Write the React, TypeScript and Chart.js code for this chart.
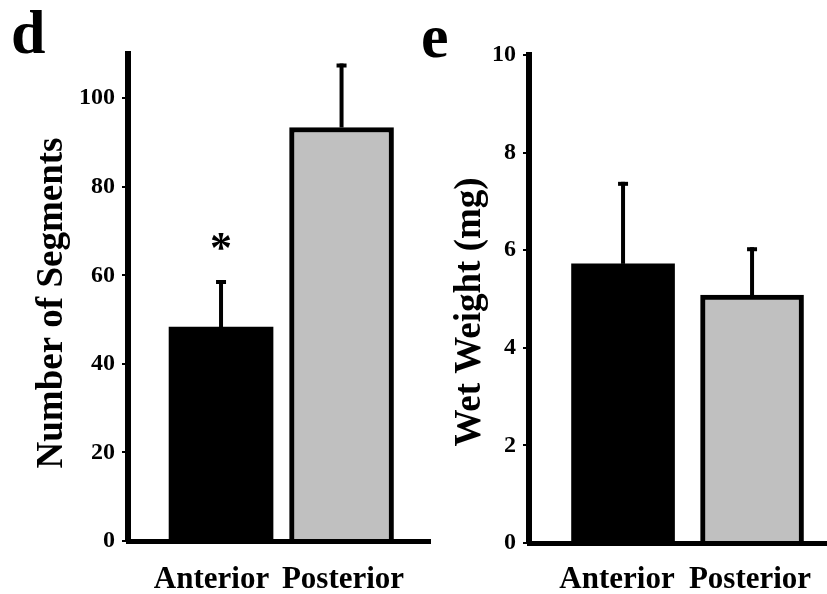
import React, { useEffect, useRef } from 'react';
import { Chart, registerables } from 'chart.js';

Chart.register(...registerables);

// ---- data ----
const categories = ['Anterior', 'Posterior'];

const segmentsMean = [48.3, 93.4];
const segmentsSD = [10.2, 14.0];
const segmentsMarks = ['*', ''];
const segmentsTicks = [0, 20, 40, 60, 80, 100];
const segmentsMax = 110;
const segmentsLabelAt = [0.921, 2.012];

const weightMean = [5.72, 5.08];
const weightSD = [1.64, 0.94];
const weightMarks = ['', ''];
const weightTicks = [0, 2, 4, 6, 8, 10];
const weightMax = 10;
const weightLabelAt = [0.953, 1.984];

const barColors = ['#000000', '#c0c0c0'];
const barBorderWidths = [0, 5];

const FONT = '"Liberation Serif", "Times New Roman", Times, serif';

type Panel = {
  canvasLeft: number;
  canvasWidth: number;
  letter: string;
  letterX: number;
  letterY: number;
  letterSize: number;
  title: string;
  titleX: number;
  titleY: number;
  means: number[];
  sds: number[];
  marks: string[];
  ticks: number[];
  labelAt: number[];
  yMax: number;
  xMin: number;
  xMax: number;
  yAxisWidth: number;
  xAxisHeight: number;
  padTop: number;
  padRight: number;
  labelGap: number;
  barThickness: number;
};

const panels: Panel[] = [
  {
    canvasLeft: 0,
    canvasWidth: 432,
    letter: 'd',
    letterX: 11,
    letterY: 53,
    letterSize: 62,
    title: 'Number of Segments',
    titleX: 62,
    titleY: 303,
    means: segmentsMean,
    sds: segmentsSD,
    marks: segmentsMarks,
    ticks: segmentsTicks,
    labelAt: segmentsLabelAt,
    yMax: segmentsMax,
    xMin: 0.228,
    xMax: 2.734,
    yAxisWidth: 128,
    xAxisHeight: 53,
    padTop: 54,
    padRight: 2,
    labelGap: 20,
    barThickness: 104,
  },
  {
    canvasLeft: 400,
    canvasWidth: 427,
    letter: 'e',
    letterX: 21,
    letterY: 57,
    letterSize: 62,
    title: 'Wet Weight (mg)',
    titleX: 80,
    titleY: 312,
    means: weightMean,
    sds: weightSD,
    marks: weightMarks,
    ticks: weightTicks,
    labelAt: weightLabelAt,
    yMax: weightMax,
    xMin: 0.271,
    xMax: 2.581,
    yAxisWidth: 129,
    xAxisHeight: 51,
    padTop: 55,
    padRight: 0,
    labelGap: 18,
    barThickness: 103,
  },
];

const overlayPlugin = {
  id: 'overlay',
  afterDatasetsDraw(chart: any, _args: any, opts: any) {
    const ctx = chart.ctx as CanvasRenderingContext2D;
    const meta = chart.getDatasetMeta(0);
    const ys = chart.scales.y;
    ctx.save();
    ctx.strokeStyle = '#000';
    ctx.fillStyle = '#000';
    meta.data.forEach((bar: any, i: number) => {
      const x = bar.x;
      const yTop = ys.getPixelForValue(opts.means[i]);
      const yErr = ys.getPixelForValue(opts.means[i] + opts.sds[i]);
      ctx.lineWidth = 4;
      ctx.lineCap = 'butt';
      ctx.beginPath();
      ctx.moveTo(x, yTop);
      ctx.lineTo(x, yErr - 2);
      ctx.stroke();
      ctx.beginPath();
      ctx.moveTo(x - 5, yErr);
      ctx.lineTo(x + 5, yErr);
      ctx.stroke();
      if (opts.marks[i]) {
        ctx.font = `bold 44px ${FONT}`;
        ctx.textAlign = 'center';
        ctx.textBaseline = 'alphabetic';
        ctx.fillText(opts.marks[i], x, yErr - 20);
      }
    });
    ctx.restore();
  },
  afterDraw(chart: any, _args: any, opts: any) {
    const ctx = chart.ctx as CanvasRenderingContext2D;
    ctx.save();
    ctx.fillStyle = '#000';
    ctx.textBaseline = 'alphabetic';
    ctx.textAlign = 'left';
    ctx.font = `bold ${opts.letterSize}px ${FONT}`;
    ctx.fillText(opts.letter, opts.letterX, opts.letterY);
    ctx.translate(opts.titleX, opts.titleY);
    ctx.rotate(-Math.PI / 2);
    ctx.textAlign = 'center';
    ctx.font = `bold 37px ${FONT}`;
    ctx.fillText(opts.title, 0, 0);
    ctx.restore();
  },
};

function PanelChart({ p }: { p: Panel }) {
  const ref = useRef<HTMLCanvasElement | null>(null);
  useEffect(() => {
    if (!ref.current) return;
    const chart = new Chart(ref.current, {
      type: 'bar',
      data: {
        datasets: [
          {
            data: categories.map((_, i) => ({ x: i + 1, y: p.means[i] })),
            backgroundColor: barColors,
            borderColor: '#000000',
            borderWidth: barBorderWidths,
            barThickness: p.barThickness,
          } as any,
        ],
      },
      options: {
        responsive: false,
        animation: false,
        events: [],
        layout: { padding: { top: p.padTop, left: 0, right: p.padRight, bottom: 0 } },
        plugins: {
          legend: { display: false },
          tooltip: { enabled: false },
          overlay: {
            means: p.means,
            sds: p.sds,
            marks: p.marks,
            letter: p.letter,
            letterX: p.letterX,
            letterY: p.letterY,
            letterSize: p.letterSize,
            title: p.title,
            titleX: p.titleX,
            titleY: p.titleY,
          },
        } as any,
        scales: {
          x: {
            type: 'linear',
            min: p.xMin,
            max: p.xMax,
            offset: false,
            afterBuildTicks: (s: any) => {
              s.ticks = p.labelAt.map((v) => ({ value: v }));
            },
            afterFit: (s: any) => {
              s.height = p.xAxisHeight;
            },
            border: { display: true, color: '#000', width: 5, z: 1 },
            grid: {
              display: true,
              drawOnChartArea: false,
              drawTicks: true,
              tickLength: p.labelGap,
              color: 'rgba(0,0,0,0)',
              lineWidth: 1,
            },
            ticks: {
              padding: 0,
              autoSkip: false,
              maxRotation: 0,
              minRotation: 0,
              color: '#000',
              font: { family: FONT, size: 31, weight: 'bold' },
              callback: (_v: any, idx: number) => categories[idx] ?? '',
            },
          } as any,
          y: {
            type: 'linear',
            min: 0,
            max: p.yMax,
            afterBuildTicks: (s: any) => {
              s.ticks = p.ticks.map((v) => ({ value: v }));
            },
            afterFit: (s: any) => {
              s.width = p.yAxisWidth;
            },
            border: { display: true, color: '#000', width: 6, z: 1 },
            grid: {
              display: true,
              drawOnChartArea: false,
              drawTicks: true,
              tickLength: 6,
              lineWidth: 2,
              color: '#000',
            },
            ticks: {
              padding: 7,
              color: '#000',
              font: { family: FONT, size: 24, weight: 'bold' },
            },
          } as any,
        },
      },
      plugins: [overlayPlugin as any],
    });
    return () => chart.destroy();
  }, [p]);
  return (
    <canvas
      ref={ref}
      width={p.canvasWidth}
      height={594}
      style={{
        position: 'absolute',
        left: p.canvasLeft,
        top: 0,
        width: p.canvasWidth,
        height: 594,
        display: 'block',
      }}
    />
  );
}

export default function App() {
  return (
    <div
      style={{
        position: 'absolute',
        left: 0,
        top: 0,
        width: 827,
        height: 594,
        background: '#ffffff',
        overflow: 'hidden',
      }}
    >
      {panels.map((p, i) => (
        <PanelChart key={i} p={p} />
      ))}
    </div>
  );
}
